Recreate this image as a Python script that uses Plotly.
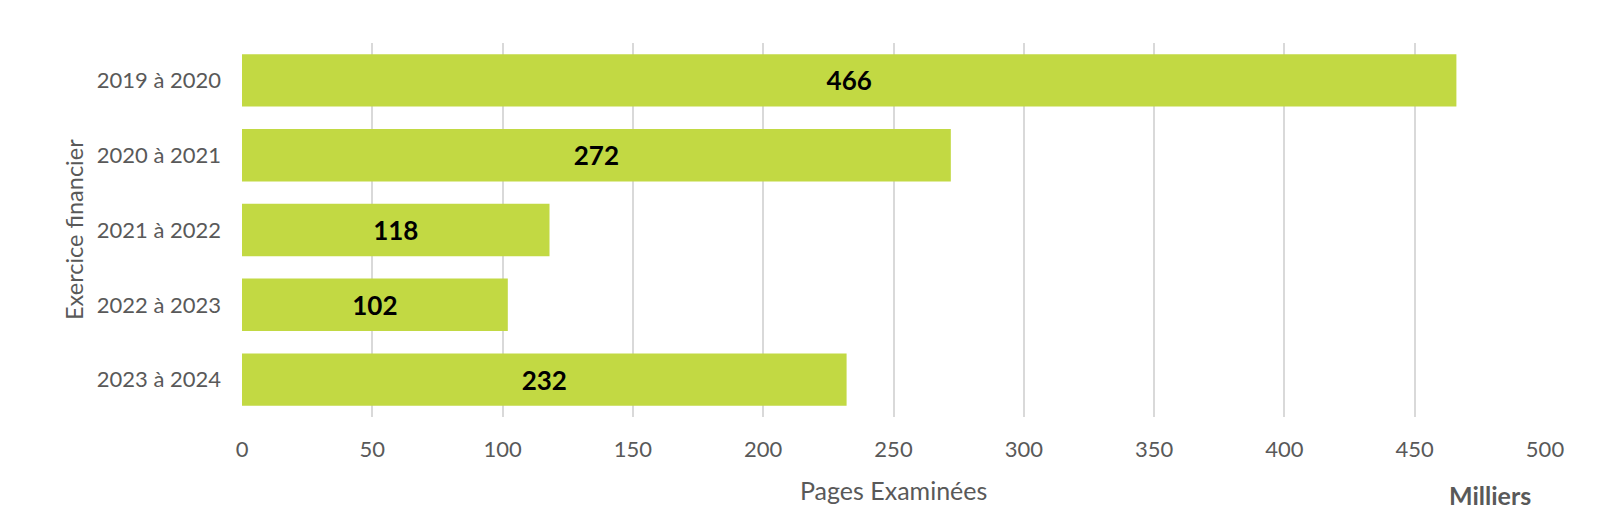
import plotly.graph_objects as go

categories = ["2019 à 2020", "2020 à 2021", "2021 à 2022", "2022 à 2023", "2023 à 2024"]
values = [466, 272, 118, 102, 232]
x_ticks = [0, 50, 100, 150, 200, 250, 300, 350, 400, 450, 500]

FONT = "Lato"
GRAY = "#595959"

fig = go.Figure()
fig.add_trace(go.Bar(
    y=categories,
    x=values,
    orientation="h",
    marker=dict(color="#C2D943", line=dict(width=0)),
    width=0.7,
    text=[f"<b>{v}</b>" for v in values],
    textposition="inside",
    insidetextanchor="middle",
    textangle=0,
    textfont=dict(family=FONT, size=26, color="black"),
    hoverinfo="skip",
))

fig.update_layout(
    width=1620,
    height=509,
    margin=dict(l=234, r=83, t=35, b=100),
    paper_bgcolor="white",
    plot_bgcolor="white",
    showlegend=False,
    font=dict(family=FONT, color=GRAY),
)

fig.update_xaxes(
    range=[0, 500],
    tickvals=x_ticks,
    ticktext=[str(t) for t in x_ticks],
    showgrid=True,
    gridcolor="#D9D9D9",
    gridwidth=1.5,
    zeroline=False,
    showline=False,
    ticks="",
    tickfont=dict(family=FONT, size=22, color=GRAY),
    ticklabelstandoff=17,
)

fig.update_yaxes(
    categoryorder="array",
    categoryarray=categories,
    autorange="reversed",
    showgrid=False,
    zeroline=False,
    showline=False,
    ticks="",
    tickfont=dict(family=FONT, size=22, color=GRAY),
    ticklabelstandoff=20,
)

fig.add_annotation(
    text="Pages Examinées", xref="paper", yref="paper",
    x=0.5, y=(409 - 482) / 374, xanchor="center", yanchor="middle",
    showarrow=False, font=dict(family=FONT, size=25, color=GRAY),
)
fig.add_annotation(
    text="<b>Milliers</b>", xref="paper", yref="paper",
    x=(1482 - 234) / 1303, y=(409 - 487) / 374, xanchor="center", yanchor="middle",
    showarrow=False, font=dict(family=FONT, size=25, color=GRAY),
)
fig.add_annotation(
    text="Exercice financier", xref="paper", yref="paper",
    x=(66 - 234) / 1303, y=0.5, xanchor="center", yanchor="middle",
    textangle=-90,
    showarrow=False, font=dict(family=FONT, size=23.5, color=GRAY),
)

fig.write_html("out.html")
